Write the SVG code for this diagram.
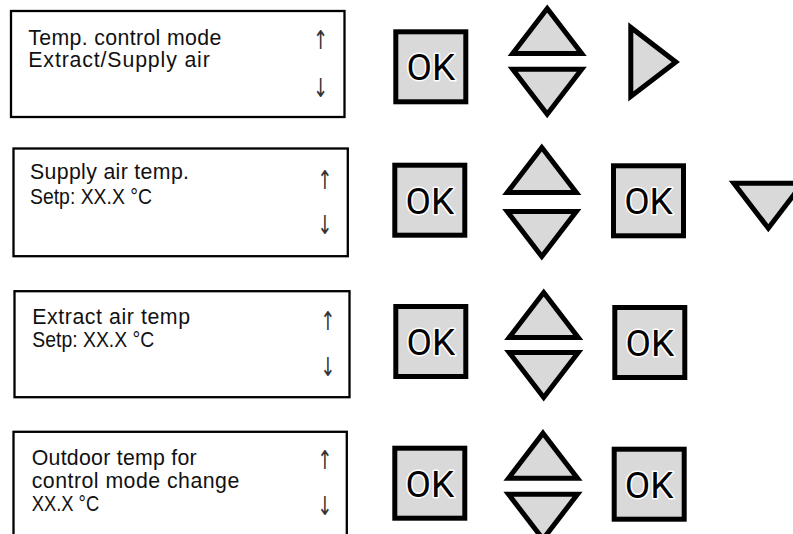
<svg xmlns="http://www.w3.org/2000/svg" width="793" height="534" viewBox="0 0 793 534">
<style>
.scr{fill:#fff;stroke:#000;stroke-width:2.3}
.t{font-family:"Liberation Sans",Arial,sans-serif;font-size:21.3px;fill:#111}
.ar{font-family:"DejaVu Sans",sans-serif;font-size:26px;fill:#333;text-anchor:middle}
.btn{fill:#d9d9d9;stroke:#000;stroke-width:5}
.ok{font-family:Roboto,"Liberation Sans",sans-serif;font-size:37px;fill:#000;stroke:#fff;stroke-width:3;paint-order:stroke;stroke-linejoin:round;text-anchor:middle}
.tri{fill:#d9d9d9;stroke:#000;stroke-width:5;stroke-linejoin:miter;stroke-miterlimit:10}
</style>
<defs>
<g id="okbtn"><rect class="btn" x="0" y="0" width="70" height="70"/><text class="ok" x="35" y="48.5">OK</text></g>
<polygon id="up" class="tri" points="0,0 34.5,45 -34.5,45"/>
<polygon id="dn" class="tri" points="-34.5,0 34.5,0 0,45"/>
</defs>

<g id="screen1">
<rect class="scr" x="11" y="11" width="333.5" height="106"/>
<text class="t" x="28.3" y="45" textLength="193">Temp. control mode</text>
<text class="t" x="28.3" y="67" textLength="181.5">Extract/Supply air</text>
<text class="ar" transform="translate(320.7,49) scale(0.7,1)">↑</text>
<text class="ar" transform="translate(320.7,97) scale(0.7,1)">↓</text>
</g>
<g id="screen2">
<rect class="scr" x="13.5" y="148.5" width="334.3" height="107.7"/>
<text class="t" x="30" y="179.3" textLength="159">Supply air temp.</text>
<text class="t" x="30" y="204.3" textLength="122" lengthAdjust="spacingAndGlyphs">Setp: XX.X °C</text>
<text class="ar" transform="translate(325,188.5) scale(0.7,1)">↑</text>
<text class="ar" transform="translate(325,234) scale(0.7,1)">↓</text>
</g>
<g id="screen3">
<rect class="scr" x="14.5" y="291.2" width="335" height="106"/>
<text class="t" x="32.3" y="324.3" textLength="157.7">Extract air temp</text>
<text class="t" x="32.3" y="346.5" textLength="122" lengthAdjust="spacingAndGlyphs">Setp: XX.X °C</text>
<text class="ar" transform="translate(328,329.5) scale(0.7,1)">↑</text>
<text class="ar" transform="translate(328,375.5) scale(0.7,1)">↓</text>
</g>
<g id="screen4">
<rect class="scr" x="13.5" y="431.8" width="333.3" height="106"/>
<text class="t" x="31.7" y="465" textLength="165">Outdoor temp for</text>
<text class="t" x="31.7" y="488.3" textLength="207.6">control mode change</text>
<text class="t" x="31.7" y="511" textLength="67.5" lengthAdjust="spacingAndGlyphs">XX.X °C</text>
<text class="ar" transform="translate(325,469) scale(0.7,1)">↑</text>
<text class="ar" transform="translate(325,515) scale(0.7,1)">↓</text>
</g>

<g id="row1-buttons">
<use href="#okbtn" x="395.8" y="31.8"/>
<use href="#up" x="547.2" y="8.5"/>
<use href="#dn" x="547.2" y="69.2"/>
<polygon class="tri" points="630.8,27.4 630.8,96.4 675.8,61.9"/>
</g>
<g id="row2-buttons">
<use href="#okbtn" x="394.8" y="165.2"/>
<use href="#up" x="541.8" y="147.5"/>
<use href="#dn" x="541.8" y="211.5"/>
<use href="#okbtn" x="613.5" y="165.8"/>
<polygon class="tri" points="733.8,183.2 802.8,183.2 768.3,228.2"/>
</g>
<g id="row3-buttons">
<use href="#okbtn" x="395.8" y="306.5"/>
<use href="#up" x="543.7" y="292.5"/>
<use href="#dn" x="543.7" y="352.5"/>
<use href="#okbtn" x="614.8" y="307.5"/>
</g>
<g id="row4-buttons">
<use href="#okbtn" x="394.8" y="448.2"/>
<use href="#up" x="543" y="433.2"/>
<use href="#dn" x="543" y="494.2"/>
<use href="#okbtn" x="614.2" y="449.2"/>
</g>
<g id="connectors"/>
</svg>
